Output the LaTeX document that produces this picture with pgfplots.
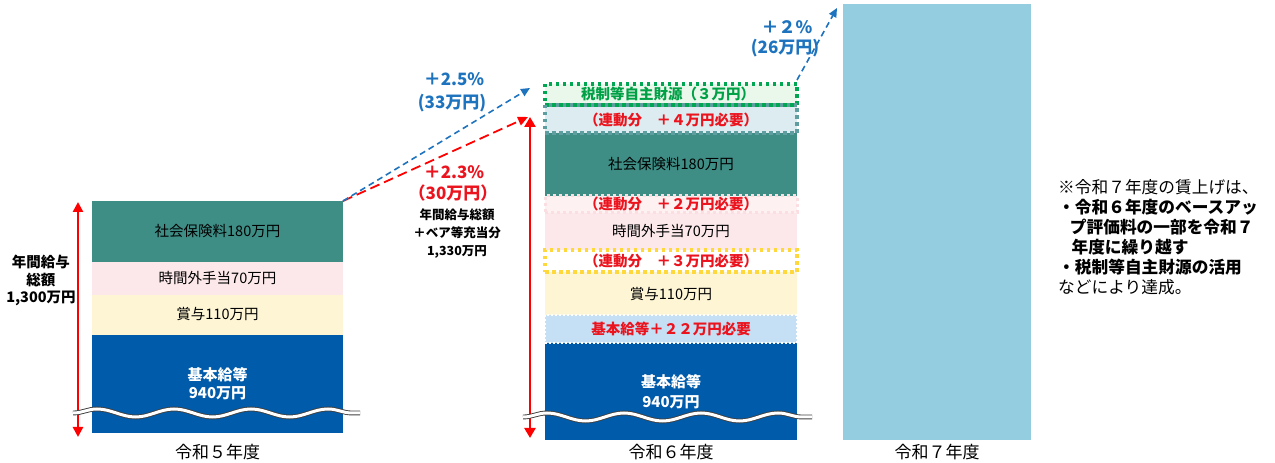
\documentclass[border=0pt]{standalone}
\usepackage{pgfplots}
\pgfplotsset{compat=1.18}
\usepackage{fontspec}
\setmainfont{Noto Sans CJK JP}
\usetikzlibrary{arrows.meta,decorations.pathmorphing}
\definecolor{cBase}{RGB}{0,91,171}
\definecolor{cSoc}{RGB}{62,142,134}
\definecolor{cOver}{RGB}{252,232,234}
\definecolor{cBonus}{RGB}{253,245,212}
\definecolor{cLB}{RGB}{197,224,245}
\definecolor{cYel}{RGB}{255,217,60}
\definecolor{cPinkL}{RGB}{253,241,242}
\definecolor{cPinkB}{RGB}{250,222,226}
\definecolor{cTealL}{RGB}{220,236,240}
\definecolor{cTealB}{RGB}{95,158,160}
\definecolor{cGreenL}{RGB}{234,248,236}
\definecolor{cGreen}{RGB}{0,166,81}
\definecolor{cBar3}{RGB}{148,205,224}
\definecolor{cRed}{RGB}{255,0,0}
\definecolor{cRedT}{RGB}{235,20,30}
\definecolor{cBlue}{RGB}{30,115,190}
\definecolor{cGreenT}{RGB}{0,160,70}
\newcommand{\fs}[1]{\fontsize{#1}{#1}\selectfont}
\pgfplotsset{base/.style={scale only axis, width=1275pt, height=463pt,
  xmin=0, xmax=1275, ymin=-23, ymax=440, hide axis, clip=false,
  ybar stacked, anchor=south west, at={(0pt,0pt)}}}
\tikzset{wave/.style={decorate, decoration={snake, amplitude=4pt, segment length=77pt},
  draw=black!75, line width=0.9pt, double=white, double distance=3pt}}
\begin{document}
\begin{tikzpicture}
\useasboundingbox (0,0) rectangle (1275pt,463pt);
% ---- 令和5年度 (display heights; broken axis) ----
\begin{axis}[base, bar width=251]
\addplot[draw=none, fill=none] coordinates {(217.5,7)};
\addplot[draw=none, fill=cBase]  coordinates {(217.5,98)};  % 基本給等 940
\addplot[draw=none, fill=cBonus] coordinates {(217.5,40)};  % 賞与 110
\addplot[draw=none, fill=cOver]  coordinates {(217.5,33)};  % 時間外 70
\addplot[draw=none, fill=cSoc]   coordinates {(217.5,61)};  % 社会保険料 180
\end{axis}
% ---- 令和6年度: fills ----
\begin{axis}[base, bar width=252]
\addplot[draw=none, fill=cBase]   coordinates {(671,97)};
\addplot[draw=none, fill=cLB]     coordinates {(671,28)};
\addplot[draw=none, fill=cBonus]  coordinates {(671,43)};
\addplot[draw=none, fill=white]   coordinates {(671,22)};
\addplot[draw=none, fill=cOver]   coordinates {(671,37)};
\addplot[draw=none, fill=cPinkL]  coordinates {(671,17)};
\addplot[draw=none, fill=cSoc]    coordinates {(671,63)};
\addplot[draw=none, fill=cTealL]  coordinates {(671,28)};
\addplot[draw=none, fill=cGreenL] coordinates {(671,21)};
\end{axis}
% ---- 令和6年度: dotted borders of the added parts ----
\begin{axis}[base, bar width=252]
\addplot[draw=none, fill=none] coordinates {(671,97)};
\addplot[fill=none, draw=white, line width=2pt, dash pattern=on 2pt off 2pt] coordinates {(671,28)};
\addplot[draw=none, fill=none] coordinates {(671,43)};
\addplot[fill=none, draw=cYel, line width=3.5pt, dash pattern=on 3.5pt off 3.5pt] coordinates {(671,22)};
\addplot[draw=none, fill=none] coordinates {(671,37)};
\addplot[fill=none, draw=cPinkB, line width=3pt, dash pattern=on 3pt off 3pt] coordinates {(671,17)};
\addplot[draw=none, fill=none] coordinates {(671,63)};
\addplot[fill=none, draw=cTealB, line width=3.5pt, dash pattern=on 3.5pt off 3.5pt] coordinates {(671,28)};
\addplot[fill=none, draw=cGreen, line width=3.5pt, dash pattern=on 3.5pt off 3.5pt] coordinates {(671,21)};
\end{axis}
% ---- 令和7年度 + annotations ----
\begin{axis}[base, bar width=188]
\addplot[draw=none, fill=cBar3] coordinates {(937,436)};
% wave breaks
\draw[wave] (axis cs:73,27) -- (axis cs:360,27);
\draw[wave] (axis cs:523,23) -- (axis cs:812,23);
% red vertical arrows
\draw[cRed, line width=2.5pt, {Triangle[length=10pt,width=10pt]}-{Triangle[length=10pt,width=10pt]}] (axis cs:78,238) -- (axis cs:78,3);
\draw[cRed, line width=2.5pt, {Triangle[length=10pt,width=11pt]}-{Triangle[length=10pt,width=11pt]}] (axis cs:530,323) -- (axis cs:530,2);
% dashed arrows
\draw[cBlue, line width=1.6pt, dash pattern=on 6pt off 4pt, -{Triangle[length=9pt,width=8pt]}] (axis cs:343,239) -- (axis cs:530,352);
\draw[cRed, line width=1.8pt, dash pattern=on 10pt off 5pt, -{Triangle[length=10pt,width=9pt]}] (axis cs:343,239) -- (axis cs:528,323);
\draw[cBlue, line width=1.6pt, dash pattern=on 6pt off 4pt, -{Triangle[length=9pt,width=8pt]}] (axis cs:797,360) -- (axis cs:837,432);
% bar 1 labels
\node[font=\fs{14.5}] at (axis cs:217.5,209) {社会保険料180万円};
\node[font=\fs{14.5}] at (axis cs:217.5,162) {時間外手当70万円};
\node[font=\fs{14.5}] at (axis cs:217.5,126) {賞与110万円};
\node[font=\fs{15}\bfseries, text=white] at (axis cs:217.5,65) {基本給等};
\node[font=\fs{15}\bfseries, text=white] at (axis cs:217.5,47) {940万円};
% bar 2 labels
\node[font=\fs{14.5}\bfseries, text=cGreenT] at (axis cs:668,346) {税制等自主財源（３万円）};
\node[font=\fs{14.5}\bfseries, text=cRedT] at (axis cs:671,320) {（連動分　＋４万円必要）};
\node[font=\fs{14.5}] at (axis cs:671,276) {社会保険料180万円};
\node[font=\fs{14.5}\bfseries, text=cRedT] at (axis cs:671,236) {（連動分　＋２万円必要）};
\node[font=\fs{14.5}] at (axis cs:671,209) {時間外手当70万円};
\node[font=\fs{14.5}\bfseries, text=cRedT] at (axis cs:671,179) {（連動分　＋３万円必要）};
\node[font=\fs{14.5}] at (axis cs:671,146) {賞与110万円};
\node[font=\fs{14.5}\bfseries, text=cRedT] at (axis cs:671,111) {基本給等＋２２万円必要};
\node[font=\fs{15}\bfseries, text=white] at (axis cs:671,58) {基本給等};
\node[font=\fs{15}\bfseries, text=white] at (axis cs:671,38) {940万円};
% bar 3 labels
\node[font=\fs{17}\bfseries] at (axis cs:937,228) {令和７年度};
\node[font=\fs{17}\bfseries] at (axis cs:937,208) {給与総額};
% category labels
\node[font=\fs{17}] at (axis cs:217.5,-12) {令和５年度};
\node[font=\fs{17}] at (axis cs:671,-12) {令和６年度};
\node[font=\fs{17}] at (axis cs:937,-12) {令和７年度};
% left label
\node[font=\fs{14.5}\bfseries] at (axis cs:41,178) {年間給与};
\node[font=\fs{14.5}\bfseries] at (axis cs:41,160) {総額};
\node[font=\fs{14.5}\bfseries] at (axis cs:41,142) {1,300万円};
% middle labels
\node[font=\fs{17}\bfseries, text=cBlue] at (axis cs:454,361) {＋2.5\%};
\node[font=\fs{17}\bfseries, text=cBlue] at (axis cs:452,337) {(33万円)};
\node[font=\fs{17}\bfseries, text=cRedT] at (axis cs:454,268) {＋2.3\%};
\node[font=\fs{17}\bfseries, text=cRedT] at (axis cs:453,247) {（30万円）};
\node[font=\fs{12.5}\bfseries] at (axis cs:457,225) {年間給与総額};
\node[font=\fs{12.5}\bfseries] at (axis cs:457,207) {＋ベア等充当分};
\node[font=\fs{12.5}\bfseries] at (axis cs:457,188) {1,330万円};
\node[font=\fs{17}\bfseries, text=cBlue] at (axis cs:787,413) {＋２\%};
\node[font=\fs{17}\bfseries, text=cBlue] at (axis cs:785,392) {(26万円)};
% right note
\node[font=\fontsize{16.7}{20}\selectfont, anchor=north west, inner sep=0pt, align=left]
  at (axis cs:1058,261)
  {※令和７年度の賃上げは、\\
   \textbf{・令和６年度のベースアッ}\\
   \hspace*{0.7em}\textbf{プ評価料の一部を令和７}\\
   \hspace*{0.8em}\textbf{年度に繰り越す}\\
   \textbf{・税制等自主財源の活用}\\
   などにより達成。};
\end{axis}
\end{tikzpicture}
\end{document}
